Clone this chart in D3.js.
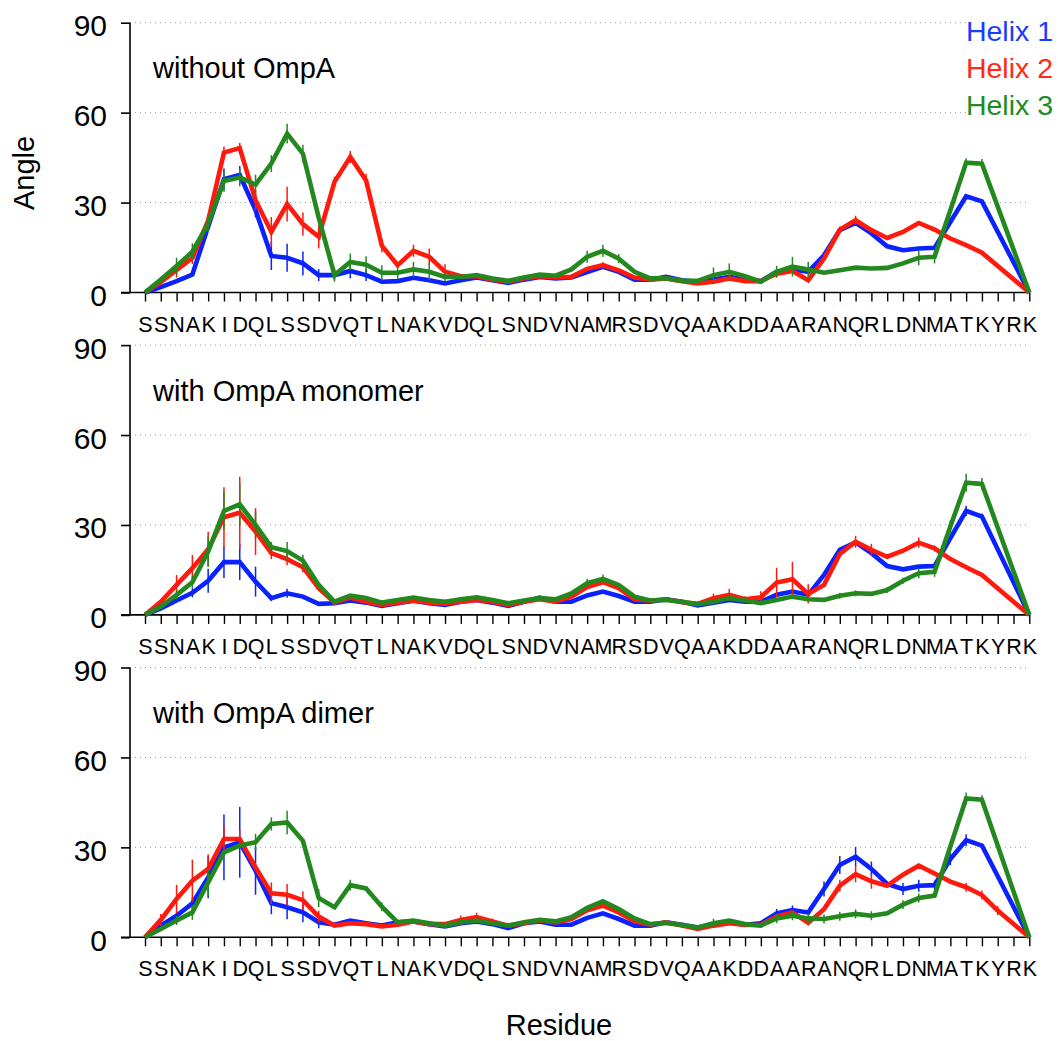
<!DOCTYPE html>
<html>
<head>
<meta charset="utf-8">
<script src="https://cdn.jsdelivr.net/npm/d3@7"></script>
<style>
  html, body { margin: 0; padding: 0; background: #fff; }
  svg { display: block; }
  text { font-family: "Liberation Sans", Arial, Helvetica, sans-serif; }
</style>
</head>
<body>
<svg id="chart" width="1058" height="1041"></svg>
<script>
// ---------------- data ----------------
const residues = "SSNAKIDQLSSDVQTLNAKVDQLSNDVNAMRSDVQAAKDDAARANQRLDNMATKYRK".split("");
const seriesNames = ["Helix 1", "Helix 2", "Helix 3"];
const panelTitles = ["without OmpA", "with OmpA monomer", "with OmpA dimer"];
const yTicks = [0, 30, 60, 90];

// Panel 1: without OmpA
const p1Helix1 = [0,1.8,3.8,6,22,37.8,39.2,27.5,12.2,11.6,9.7,5.8,5.8,7.2,5.8,3.6,3.8,4.9,4.1,3,4.1,5,4.1,3.2,4.3,5.2,4.7,5,6.8,8.6,6.9,4.3,4.3,5.2,4.1,3.6,4.3,5.2,4.3,3.8,6.9,7.7,6.9,12.4,20.8,23.2,19.7,15.4,14.1,14.7,14.9,23.5,32.1,30.4,null,null,0];
const p1Helix2 = [0,3.5,7.5,11.5,24,46.7,48.2,30.8,20.2,29.5,22.8,18.6,36.9,45.2,37.4,15.6,9.1,13.9,11.9,6.9,5.4,5.4,4.3,3.6,4.7,5.4,5,5.2,7.9,9.1,7.4,5,4.3,4.7,3.8,3,3.6,4.7,3.8,3.8,6.3,7.2,4.1,11.3,21,24.1,20.8,18.2,20.2,23.2,21,18,15.8,13.3,null,null,0];
const p1Helix3 = [0,4.3,8.8,13.6,23,37.2,38.4,36,43,53,46.3,25,5.8,10.2,9.3,6.6,6.6,7.7,6.9,5.2,5.2,5.8,4.7,3.9,5,6,5.6,7.7,11.9,13.9,11.3,6.9,4.7,4.7,3.9,3.9,5.8,6.9,5.4,3.6,6.9,8.6,7.7,6.6,7.4,8.3,8,8.2,9.7,11.6,11.9,27.4,43.3,43,null,null,0];
const p1Err1 = {5:3.6,6:3,7:2.5,8:4.7,9:4.7,10:4,11:2,12:1.5,13:2.5,14:2};
const p1Err2 = {2:2.5,3:2,5:2,6:1.7,7:3.3,8:5,9:5.8,10:3.9,11:3.9,12:1.7,13:2,14:2.2,15:2.2,17:2,18:2.8,19:2.5,29:1,44:1,45:1.5};
const p1Err3 = {2:2.8,3:2.8,4:2.8,5:3.6,6:3,7:3.3,8:2.8,9:3.3,10:3,12:2.2,13:2.8,14:2.8,15:2.5,16:2,17:2.5,18:2.8,19:1.5,28:2,29:2,30:1.5,36:2.5,37:2.8,40:2,41:3.3,42:2.5,49:2.5,50:2.2,52:1.5,53:1.5};

// Panel 2: with OmpA monomer
const p2Helix1 = [0,2.2,4.8,7.4,11.4,17.6,17.6,11.1,5.6,7.2,6.1,3.7,3.9,4.8,4.1,3,3.9,4.7,3.9,3.3,4.4,5,4.1,3,4.4,5.8,4.4,4.4,6.5,7.8,6.3,4.4,4.4,5.2,4.4,3.2,4.1,5,4.4,4.4,6.7,7.8,6.7,13.3,21.7,24.2,20.6,16.3,15.2,16.1,16.3,25.6,34.7,32.8,null,null,0];
const p2Helix2 = [0,4.4,10,15.6,21.9,32.6,34.1,27.8,20.6,18.6,15.9,8.9,4.1,5.8,4.4,3.3,4.1,4.8,4.1,3.7,4.4,5,4.4,3.3,4.4,5.2,4.4,6.1,9.3,10.9,8.9,5.2,4.7,5.2,4.2,3.7,5.6,6.7,5.2,5.9,10.8,11.9,7,10,20.3,24.4,21.7,19.4,21.4,24.1,22.2,18.6,15.9,13.3,null,null,0];
const p2Helix3 = [0,2.8,6.7,10.9,21.1,34.7,36.9,30,22.6,21.3,18.1,10,4.4,6.4,5.6,4.1,5,5.8,5,4.4,5.2,5.9,5,3.9,4.8,5.6,5.2,7.2,10.6,12,10,6.1,4.8,5,4.4,3.6,4.4,5.6,4.8,3.9,5,6.1,5.2,5,6.4,7.2,7,8.3,11.4,13.9,14.4,29.5,44.1,43.7,null,null,0];
const p2Err1 = {3:1.5,4:4,5:5.3,6:6,7:5,8:1,9:1.5,52:1.7,53:1};
const p2Err2 = {2:3.3,3:4.4,4:5.8,5:10,6:12,7:7.8,8:2,9:2,10:1.7,36:1.5,37:2,38:1,39:2,40:4.9,41:5.8,42:3.2,45:2,46:2,49:1.7,50:1};
const p2Err3 = {2:1.5,3:2,4:5,5:6.4,6:7,7:4.5,8:1.7,9:3,10:2,28:1.5,29:1.5,44:1,45:1,47:1,48:1,49:1.7,50:1.7,51:2,52:3,53:2};

// Panel 3: with OmpA dimer
const p3Helix1 = [0,3.9,7.2,11.3,20,30,31.7,22.2,11.4,10,8.3,5,4.2,5.6,4.7,3.9,5,5.3,4.4,3.6,4.7,5.3,4.4,3.1,4.7,5.3,4.2,4.2,6.5,8,6.1,3.9,3.9,5,4.2,3.3,4.2,5,4.2,4.7,8,9.1,8.3,16.1,24.1,26.9,22.8,17.8,16.1,17.2,17.4,26.1,32.4,30.6,null,null,0];
const p3Helix2 = [0,5.8,12.8,18.9,22.8,32.8,32.8,23.3,14.7,14.2,12.4,6.9,3.9,4.7,4.4,3.6,4.2,5.3,4.4,4.4,5.8,6.7,5.3,3.9,4.7,5.6,5,6.1,9,10.6,8.3,5.3,4.2,5,3.9,2.8,3.9,4.7,4.1,4.2,7,8.3,4.8,9.4,17.2,21.1,18.7,17.2,20.9,23.9,21.3,18.6,16.7,14.1,8.9,null,0];
const p3Helix3 = [0,2.8,5.6,8.3,18.3,28.3,30.6,31.7,37.8,38.3,32.2,13.1,10,17.4,16.3,10.2,5,5.6,4.7,3.9,5,5.6,4.7,3.9,5,5.8,5.3,6.7,9.8,12,9.4,6.3,4.4,4.8,4.1,3.3,4.7,5.6,4.4,3.9,6.3,7.2,6.3,6.1,7,7.8,7.2,8,10.9,13.1,13.9,30.3,46.3,45.9,null,null,0];
const p3Err1 = {2:1.5,3:2,4:7,5:11,6:11.8,7:8,8:3.7,9:4,10:3.3,11:2,40:1.5,41:1.5,43:2.5,44:3,45:3.2,46:2.5,48:2,49:2,50:1.5,51:2,52:2};
const p3Err2 = {1:2,2:4.7,3:7,4:4.9,5:4.4,6:3,8:3.6,9:3.6,10:3,11:2,20:1.5,21:1.5,22:1,44:2,45:2.8,46:2.5,52:1.5,53:1.5,54:1.5};
const p3Err3 = {2:1.5,3:2.5,4:4.4,7:2.8,8:2.2,9:3.9,11:3,13:1.8,15:1.5,36:1.5,40:1.5,41:1.5,42:1.5,43:1.5,44:1.5,45:1.5,46:1.5,48:1.5,49:1.5,52:2,53:1.5};

const panels = [
  { title: panelTitles[0], values: [p1Helix1, p1Helix2, p1Helix3], errors: [p1Err1, p1Err2, p1Err3] },
  { title: panelTitles[1], values: [p2Helix1, p2Helix2, p2Helix3], errors: [p2Err1, p2Err2, p2Err3] },
  { title: panelTitles[2], values: [p3Helix1, p3Helix2, p3Helix3], errors: [p3Err1, p3Err2, p3Err3] }
];

// ---------------- layout / style ----------------
const colors = ["#0a22ff", "#ff1a0d", "#23891f"];
const legendColors = ["#1a3cff", "#ff2a12", "#1f8c1f"];
const panelTop = [22.7, 345.1, 667.5];
const panelH = 269.8;
const axisX = 130;
const font = '"Liberation Sans", Arial, Helvetica, sans-serif';

const svg = d3.select("#chart");
svg.append("rect").attr("width", 1058).attr("height", 1041).attr("fill", "#fff");

const x = d3.scaleLinear().domain([0, residues.length - 1]).range([145, 1029.3]);

panels.forEach((p, pi) => {
  const top = panelTop[pi];
  const y = d3.scaleLinear().domain([0, 90]).range([top + panelH, top]);
  const g = svg.append("g");

  // grid
  g.selectAll("line.grid").data(yTicks.filter(t => t > 0)).join("line")
    .attr("x1", axisX).attr("x2", 1027)
    .attr("y1", d => y(d)).attr("y2", d => y(d))
    .attr("stroke", "#9a9a9a").attr("stroke-width", 1)
    .attr("stroke-dasharray", "1,4");

  // y axis
  const yAxis = d3.axisLeft(y).tickValues(yTicks).tickSize(9).tickPadding(14).tickFormat(d3.format("d"));
  const ya = g.append("g").attr("transform", `translate(${axisX},0)`).call(yAxis);
  ya.select(".domain").attr("stroke", "#000").attr("stroke-width", 1.6).attr("d", `M0,${y(90)}V${y(0)}`);
  ya.selectAll(".tick line").attr("stroke", "#000").attr("stroke-width", 1.6);
  ya.selectAll(".tick text").attr("font-size", 30).attr("font-family", font).attr("fill", "#000")
    .attr("x", -23).attr("dy", null).attr("y", 13).attr("dominant-baseline", null);

  // x axis
  const xAxis = d3.axisBottom(x).tickValues(d3.range(residues.length)).tickSize(9).tickPadding(0)
    .tickFormat(i => residues[i]);
  const xa = g.append("g").attr("transform", `translate(0,${y(0)})`).call(xAxis);
  xa.select(".domain").attr("stroke", "#000").attr("stroke-width", 1.6).attr("d", `M${axisX - 9},0H1030`);
  xa.selectAll(".tick line").attr("stroke", "#000").attr("stroke-width", 1.4);
  xa.selectAll(".tick text").attr("font-size", 21.5).attr("font-family", font).attr("fill", "#000")
    .attr("y", 39).attr("dy", null);

  // title
  g.append("text").attr("x", 153).attr("y", top + 55.5).attr("font-size", 29)
    .attr("fill", "#000").text(p.title);

  // series
  p.values.forEach((vals, si) => {
    const pts = vals.map((v, i) => ({ i, v })).filter(d => d.v !== null);
    const line = d3.line().x(d => x(d.i)).y(d => y(d.v));
    g.append("path").datum(pts)
      .attr("d", line)
      .attr("fill", "none")
      .attr("stroke", colors[si])
      .attr("stroke-width", 4.6)
      .attr("stroke-linejoin", "miter")
      .attr("stroke-miterlimit", 3);
    const errs = Object.entries(p.errors[si]).map(([i, e]) => ({ i: +i, e, v: vals[+i] }))
      .filter(d => d.v !== null);
    g.selectAll(null).data(errs).join("line")
      .attr("x1", d => x(d.i)).attr("x2", d => x(d.i))
      .attr("y1", d => y(d.v - d.e)).attr("y2", d => y(d.v + d.e))
      .attr("stroke", colors[si]).attr("stroke-width", 1.5);
  });
});

// legend (opaque box)
svg.append("rect").attr("x", 966).attr("y", 14).attr("width", 92).attr("height", 108).attr("fill", "#fff");
const legendY = [40.7, 78.3, 115];
seriesNames.forEach((n, i) => {
  svg.append("text").attr("x", 1053).attr("y", legendY[i]).attr("text-anchor", "end")
    .attr("font-size", 28.5).attr("fill", legendColors[i]).text(n);
});

// axis titles
svg.append("text").attr("transform", "translate(34,173) rotate(-90)")
  .attr("text-anchor", "middle").attr("font-size", 29).attr("fill", "#000").text("Angle");
svg.append("text").attr("x", 559).attr("y", 1035).attr("text-anchor", "middle")
  .attr("font-size", 29).attr("fill", "#000").text("Residue");
</script>
</body>
</html>
